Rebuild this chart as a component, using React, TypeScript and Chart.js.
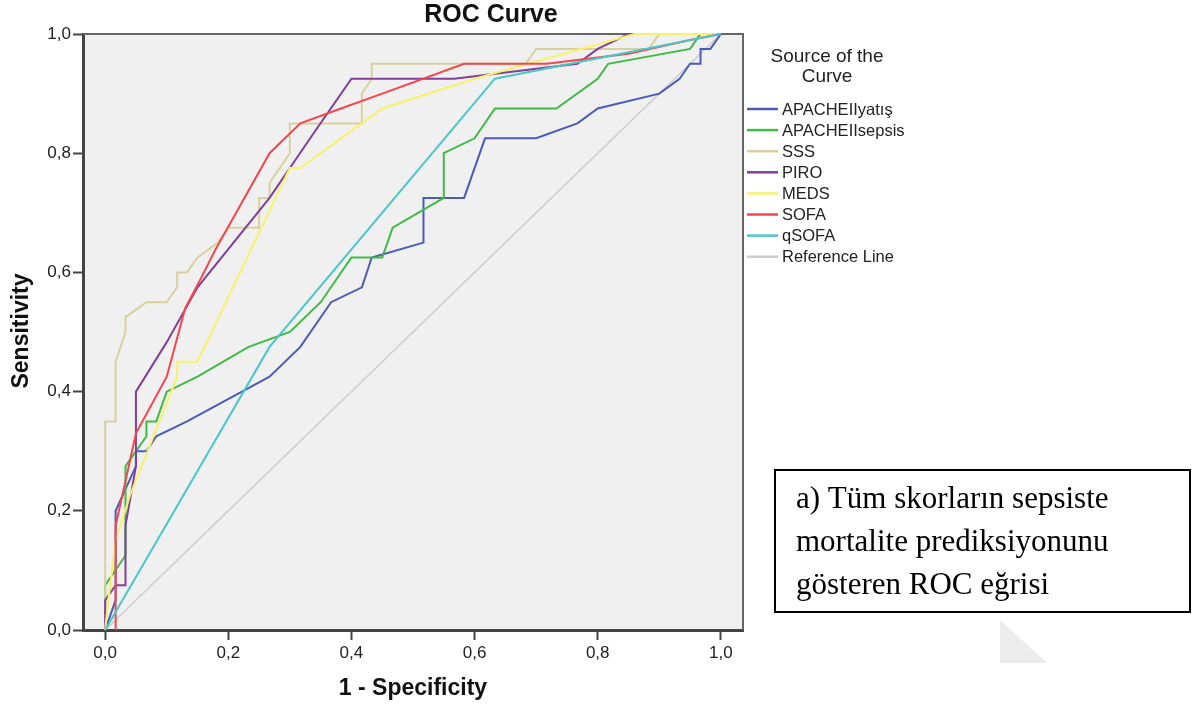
import React, { useEffect, useRef } from "react";
import { Chart, registerables } from "chart.js";

Chart.register(...registerables);

// ---- Data (1 - Specificity on x, Sensitivity on y) ----
const seriesNames = ["APACHEIIyatış", "APACHEIIsepsis", "SSS", "PIRO", "MEDS", "SOFA", "qSOFA"];
const seriesColors = ["#4a5cb8", "#3fba45", "#d8d19f", "#80409a", "#f7f26a", "#f5464d", "#4bc6c9"];

const apacheYatisX = [0, 0.017, 0.017, 0.05, 0.05, 0.067, 0.083, 0.133, 0.267, 0.317, 0.367, 0.417, 0.433, 0.45, 0.517, 0.517, 0.583, 0.617, 0.7, 0.767, 0.8, 0.9, 0.933, 0.95, 0.967, 0.967, 0.983, 1];
const apacheYatisY = [0, 0.05, 0.2, 0.275, 0.3, 0.3, 0.325, 0.35, 0.425, 0.475, 0.55, 0.575, 0.625, 0.63, 0.65, 0.725, 0.725, 0.825, 0.825, 0.85, 0.875, 0.9, 0.925, 0.95, 0.95, 0.975, 0.975, 1];

const apacheSepsisX = [0, 0, 0.033, 0.033, 0.05, 0.067, 0.067, 0.083, 0.1, 0.15, 0.233, 0.3, 0.35, 0.4, 0.45, 0.467, 0.55, 0.55, 0.6, 0.633, 0.733, 0.8, 0.817, 0.95, 0.967, 1];
const apacheSepsisY = [0, 0.075, 0.125, 0.275, 0.3, 0.325, 0.35, 0.35, 0.4, 0.425, 0.475, 0.5, 0.55, 0.625, 0.625, 0.675, 0.725, 0.8, 0.825, 0.875, 0.875, 0.925, 0.95, 0.975, 1, 1];

const sssX = [0, 0, 0.017, 0.017, 0.033, 0.033, 0.067, 0.1, 0.117, 0.117, 0.133, 0.15, 0.183, 0.2, 0.25, 0.25, 0.267, 0.267, 0.3, 0.3, 0.417, 0.417, 0.433, 0.433, 0.683, 0.7, 0.883, 0.9, 1];
const sssY = [0, 0.35, 0.35, 0.45, 0.5, 0.525, 0.55, 0.55, 0.575, 0.6, 0.6, 0.625, 0.65, 0.675, 0.675, 0.725, 0.725, 0.75, 0.8, 0.85, 0.85, 0.9, 0.925, 0.95, 0.95, 0.975, 0.975, 1, 1];

const piroX = [0, 0, 0.017, 0.033, 0.033, 0.05, 0.05, 0.1, 0.15, 0.267, 0.333, 0.4, 0.567, 0.767, 0.8, 0.85, 1];
const piroY = [0, 0.05, 0.075, 0.075, 0.175, 0.275, 0.4, 0.483, 0.575, 0.725, 0.825, 0.925, 0.925, 0.95, 0.975, 1, 1];

const medsX = [0, 0.003, 0.017, 0.04, 0.117, 0.117, 0.15, 0.3, 0.317, 0.45, 0.6, 0.86, 1];
const medsY = [0, 0.03, 0.15, 0.225, 0.425, 0.45, 0.45, 0.775, 0.775, 0.875, 0.925, 1, 1];

const sofaX = [0.017, 0.017, 0.033, 0.05, 0.1, 0.13, 0.154, 0.179, 0.267, 0.317, 0.383, 0.45, 0.583, 0.717, 0.85, 0.95, 1];
const sofaY = [0, 0.175, 0.25, 0.33, 0.425, 0.54, 0.587, 0.638, 0.8, 0.85, 0.875, 0.9, 0.95, 0.95, 0.967, 0.99, 1];

const qsofaX = [0, 0.267, 0.633, 1];
const qsofaY = [0, 0.475, 0.925, 1];

const referenceX = [0, 1];
const referenceY = [0, 1];

const seriesX = [apacheYatisX, apacheSepsisX, sssX, piroX, medsX, sofaX, qsofaX];
const seriesY = [apacheYatisY, apacheSepsisY, sssY, piroY, medsY, sofaY, qsofaY];

const tickValues = [0, 0.2, 0.4, 0.6, 0.8, 1.0];

const titleText = "ROC Curve";
const xTitle = "1 - Specificity";
const yTitle = "Sensitivity";
const legendTitle = ["Source of the", "Curve"];
const referenceName = "Reference Line";
const noteLines = ["a) Tüm skorların sepsiste", "mortalite prediksiyonunu", "gösteren ROC eğrisi"];

const fmt = (v: number) => Number(v).toFixed(1).replace(".", ",");
const SANS = "'Liberation Sans', Arial, sans-serif";
const SERIF = "'Liberation Serif', 'Times New Roman', serif";

export default function App() {
  const ref = useRef<HTMLCanvasElement | null>(null);

  useEffect(() => {
    document.body.style.margin = "0";
    const canvas = ref.current;
    if (!canvas) return;
    const ctx = canvas.getContext("2d");
    if (!ctx) return;

    const decor = {
      id: "decor",
      beforeDraw(chart: any) {
        const c = chart.ctx;
        const a = chart.chartArea;
        c.save();
        c.fillStyle = "#ffffff";
        c.fillRect(0, 0, chart.width, chart.height);
        c.fillStyle = "#f0f0f0";
        c.fillRect(a.left, a.top, a.right - a.left, a.bottom - a.top);
        c.restore();
      },
      beforeDatasetsDraw(chart: any) {
        const c = chart.ctx;
        const a = chart.chartArea;
        c.save();
        c.strokeStyle = "#666666";
        c.lineWidth = 2;
        c.beginPath();
        c.moveTo(a.left, a.top);
        c.lineTo(a.right, a.top);
        c.lineTo(a.right, a.bottom);
        c.stroke();
        c.restore();
      },
      afterDraw(chart: any) {
        const c = chart.ctx;
        const a = chart.chartArea;
        c.save();
        c.fillStyle = "#111111";
        c.textAlign = "center";
        c.textBaseline = "middle";
        // title
        c.font = `bold 25px ${SANS}`;
        c.fillText(titleText, 491, 15);
        // axis titles
        c.font = `bold 23px ${SANS}`;
        c.fillText(xTitle, (a.left + a.right) / 2, 689);
        c.save();
        c.translate(22, 331);
        c.rotate(-Math.PI / 2);
        c.fillText(yTitle, 0, 0);
        c.restore();
        // legend
        c.fillStyle = "#222222";
        c.font = `19px ${SANS}`;
        c.fillText(legendTitle[0], 827, 57);
        c.fillText(legendTitle[1], 827, 77);
        c.textAlign = "left";
        c.font = `16.5px ${SANS}`;
        const names = [...seriesNames, referenceName];
        const colors = [...seriesColors, "#cccccc"];
        names.forEach((n, i) => {
          const y = 109 + i * 21.1;
          c.strokeStyle = colors[i];
          c.lineWidth = 2.5;
          c.beginPath();
          c.moveTo(747, y);
          c.lineTo(778, y);
          c.stroke();
          c.fillStyle = "#222222";
          c.fillText(n, 782, y + 1);
        });
        // annotation box
        c.strokeStyle = "#000000";
        c.lineWidth = 2;
        c.strokeRect(775, 470, 415, 142);
        c.fillStyle = "#000000";
        c.font = `31px ${SERIF}`;
        c.textBaseline = "alphabetic";
        noteLines.forEach((t, i) => c.fillText(t, 796, 508 + i * 43));
        // faint triangle
        c.fillStyle = "#ececec";
        c.beginPath();
        c.moveTo(1000, 620);
        c.lineTo(1047, 663);
        c.lineTo(1000, 663);
        c.closePath();
        c.fill();
        c.restore();
      },
    };

    const datasets: any[] = seriesNames.map((name, i) => ({
      label: name,
      data: seriesX[i].map((x, j) => ({ x, y: seriesY[i][j] })),
      borderColor: seriesColors[i],
      backgroundColor: seriesColors[i],
      borderWidth: 2,
      showLine: true,
      pointRadius: 0,
      tension: 0,
      clip: false,
      order: 7 - i,
    }));
    datasets.push({
      label: referenceName,
      data: referenceX.map((x, j) => ({ x, y: referenceY[j] })),
      borderColor: "#cccccc",
      borderWidth: 1.5,
      showLine: true,
      pointRadius: 0,
      clip: false,
      order: 100,
    });

    const chart = new Chart(ctx, {
      type: "scatter",
      data: { datasets },
      plugins: [decor],
      options: {
        responsive: false,
        animation: false,
        layout: { padding: { left: 33, right: 449, top: 34, bottom: 41 } },
        plugins: { legend: { display: false }, title: { display: false }, tooltip: { enabled: false } },
        scales: {
          x: {
            type: "linear",
            min: -0.036,
            max: 1.036,
            afterBuildTicks: (s: any) => {
              s.ticks = tickValues.map((v) => ({ value: v }));
            },
            afterFit: (s: any) => {
              s.height = 40;
            },
            grid: { drawOnChartArea: false, drawTicks: true, tickLength: 10, tickWidth: 2, tickColor: "#444444" },
            border: { display: true, color: "#444444", width: 3 },
            ticks: {
              callback: (v: any) => fmt(v),
              font: { family: SANS, size: 17 },
              color: "#222222",
              padding: 3,
              maxRotation: 0,
              autoSkip: false,
            },
          },
          y: {
            type: "linear",
            min: 0,
            max: 1,
            afterBuildTicks: (s: any) => {
              s.ticks = tickValues.map((v) => ({ value: v }));
            },
            afterFit: (s: any) => {
              s.width = 50;
            },
            grid: { drawOnChartArea: false, drawTicks: true, tickLength: 10, tickWidth: 2, tickColor: "#444444" },
            border: { display: true, color: "#444444", width: 3 },
            ticks: {
              callback: (v: any) => fmt(v),
              font: { family: SANS, size: 17 },
              color: "#222222",
              padding: 2,
              autoSkip: false,
            },
          },
        },
      } as any,
    });

    return () => chart.destroy();
  }, []);

  return (
    <div style={{ position: "absolute", left: 0, top: 0, width: 1192, height: 711 }}>
      <canvas ref={ref} width={1192} height={711} style={{ width: 1192, height: 711, display: "block" }} />
    </div>
  );
}
